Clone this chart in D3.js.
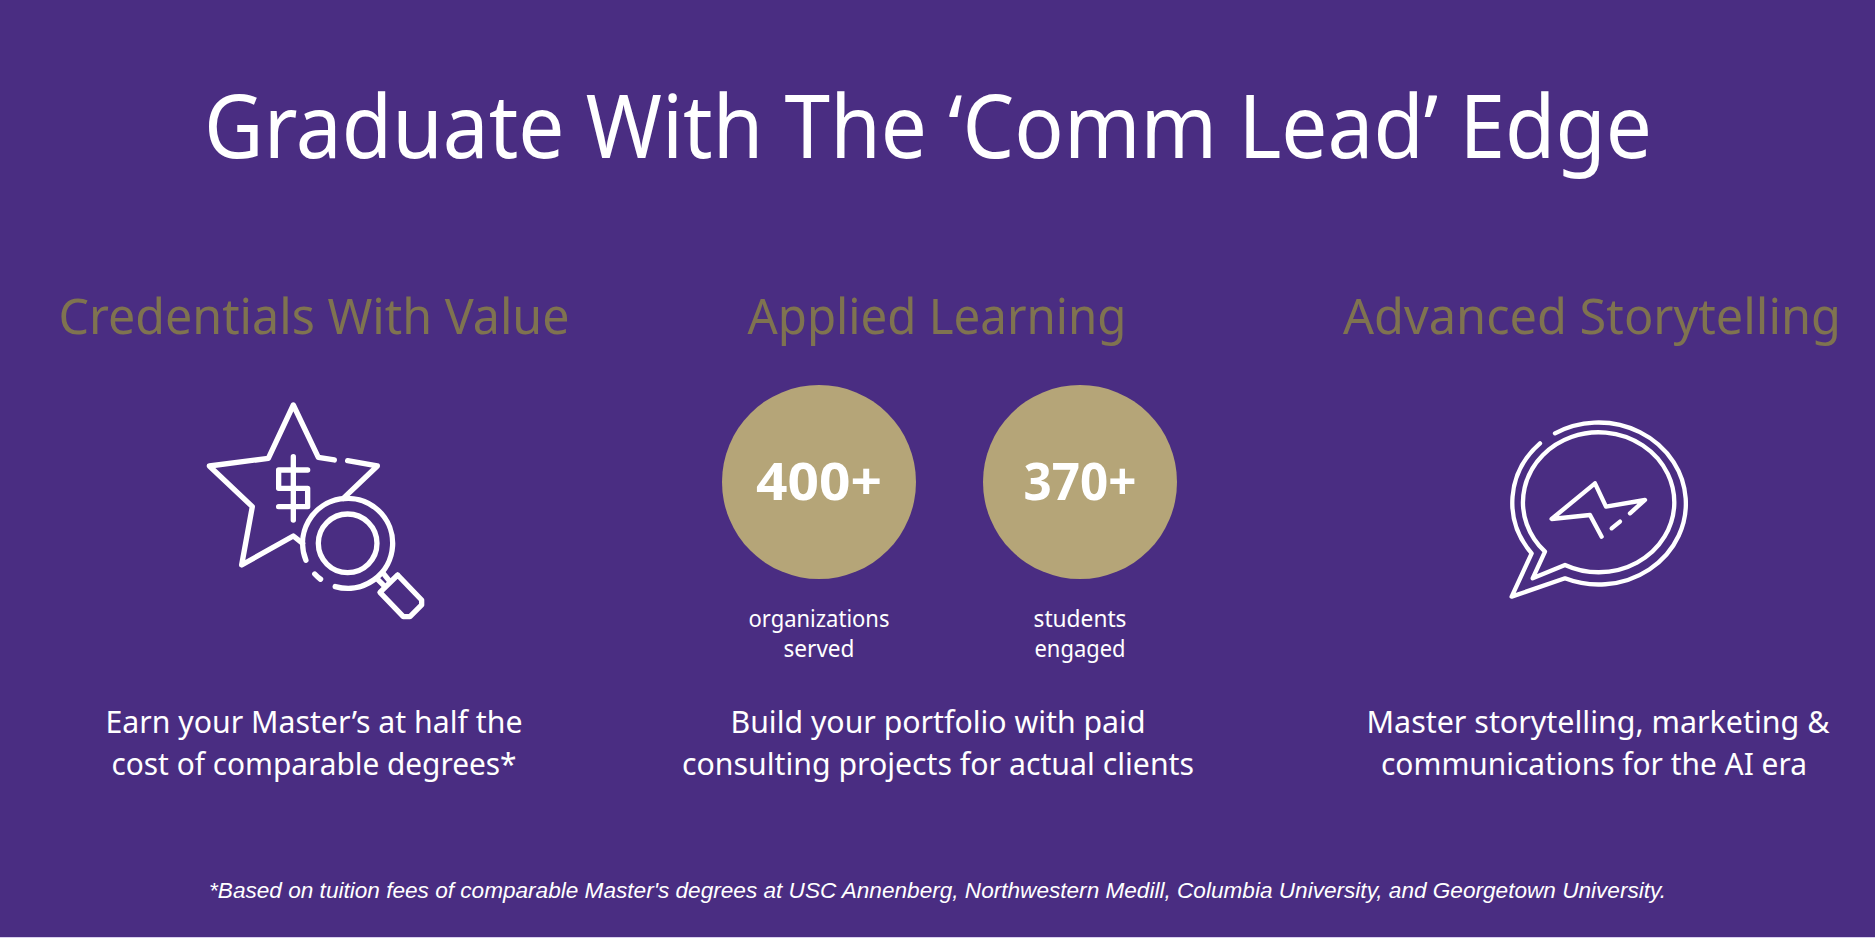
<!DOCTYPE html>
<html>
<head>
<meta charset="utf-8">
<script src="https://cdn.jsdelivr.net/npm/d3@7/dist/d3.min.js"></script>
<style>
  html, body { margin: 0; padding: 0; background: #4a2d82; }
  svg { display: block; }
  text { font-family: "Noto Sans", sans-serif; text-anchor: middle; }
</style>
</head>
<body>
<svg id="chart" width="1875" height="938"></svg>
<script>
const titleText = "Graduate With The \u2018Comm Lead\u2019 Edge";
const columns = ["Credentials With Value", "Applied Learning", "Advanced Storytelling"];
const bodyLines = [
  ["Earn your Master\u2019s at half the", "cost of comparable degrees*"],
  ["Build your portfolio with paid", "consulting projects for actual clients"],
  ["Master storytelling, marketing &", "communications for the AI era"]
];
const statValues = ["400+", "370+"];
const statLabels = [["organizations", "served"], ["students", "engaged"]];
const footnote = "*Based on tuition fees of comparable Master's degrees at USC Annenberg, Northwestern Medill, Columbia University, and Georgetown University.";

const WHITE = "#ffffff", GOLD = "#b5a578", HEADING = "#7f7350", BG = "#4a2d82";

// measured widths, the original face is a bit narrower than Noto Sans
const headWidths = [511, 379, 498];
const bodyWidths = [[417, 405], [415, 512], [463, 426]];
const bodyCenters = [[314, 314], [938, 938], [1598, 1594]];
const statWidths = [126, 113];
const labelWidths = [[141, 71], [93, 91]];

const svg = d3.select("#chart");
svg.append("rect").attr("width", 1875).attr("height", 937).attr("fill", BG);
svg.append("rect").attr("y", 937).attr("width", 1875).attr("height", 1).attr("fill", "#d9d0ee");

const colX = d3.scaleOrdinal().domain(columns).range([314, 937, 1592]);
const statX = d3.scaleOrdinal().domain(statValues).range([819, 1080]);

const fit = (sel, w) => sel.attr("textLength", w).attr("lengthAdjust", "spacingAndGlyphs");

// title
svg.append("text").attr("x", 928).attr("y", 158)
  .attr("font-size", 87).attr("fill", WHITE)
  .call(fit, 1448)
  .text(titleText);

// column headings
svg.selectAll("text.head").data(columns).join("text")
  .attr("class", "head")
  .attr("x", d => colX(d)).attr("y", 334)
  .attr("font-size", 50).attr("fill", HEADING)
  .call(fit, (d, i) => headWidths[i])
  .text(d => d);

// body copy, two lines per column
columns.forEach((c, i) => {
  svg.selectAll("text.b" + i).data(bodyLines[i]).join("text")
    .attr("class", "b" + i)
    .attr("x", (d, j) => bodyCenters[i][j]).attr("y", (d, j) => 733 + j * 42)
    .attr("font-size", 31).attr("fill", WHITE)
    .call(fit, (d, j) => bodyWidths[i][j])
    .text(d => d);
});

// circles with stats
svg.selectAll("circle.stat").data(statValues).join("circle")
  .attr("class", "stat")
  .attr("cx", d => statX(d)).attr("cy", 482).attr("r", 97)
  .attr("fill", GOLD);
svg.selectAll("text.val").data(statValues).join("text")
  .attr("class", "val")
  .attr("x", d => statX(d)).attr("y", 500)
  .attr("font-size", 52).attr("font-weight", 700).attr("fill", WHITE)
  .call(fit, (d, i) => statWidths[i])
  .text(d => d);
statValues.forEach((v, i) => {
  svg.selectAll("text.l" + i).data(statLabels[i]).join("text")
    .attr("class", "l" + i)
    .attr("x", statX(v)).attr("y", (d, j) => 627 + j * 30)
    .attr("font-size", 23).attr("fill", WHITE)
    .call(fit, (d, j) => labelWidths[i][j])
    .text(d => d);
});

// footnote
svg.append("text").attr("x", 937.5).attr("y", 898)
  .style("font-family", "'Liberation Sans', sans-serif")
  .attr("font-size", 22.6).attr("font-style", "italic").attr("fill", WHITE)
  .text(footnote);

// icons, traced in 3x crop units
const line = d3.line();
const rad = d => d * Math.PI / 180;

const starIcon = svg.append("g")
  .attr("transform", "translate(180,380) scale(0.3333)")
  .attr("fill", "none").attr("stroke", WHITE).attr("stroke-width", 16)
  .attr("stroke-linecap", "round").attr("stroke-linejoin", "round");
const starParts = [
  [[463,240],[415,232],[340,75],[265,235],[88,258],[217,380],[185,555],[340,468],[368,490]],
  [[503,242],[592,258],[490,355]],
  [[340,230],[340,420]],
  [[383,270],[296,270],[296,325],[383,325],[383,380],[296,380]],
  [[590,595],[615,620]],
  [[610,580],[630,605]],
  [[653,585],[725,660],[725,675],[690,710],[670,710],[600,637],[653,585]]
];
starParts.forEach(p => starIcon.append("path").attr("d", line(p)));
const lens = d3.path();
lens.arc(503, 490, 88, 0, 2 * Math.PI);
starIcon.append("path").attr("d", lens.toString());
const ring = d3.path();
ring.arc(503, 490, 135, rad(106), rad(158), true);
starIcon.append("path").attr("d", ring.toString());
const ringDash = d3.path();
ringDash.arc(503, 490, 135, rad(127), rad(137));
starIcon.append("path").attr("d", ringDash.toString());

const bubbleIcon = svg.append("g")
  .attr("transform", "translate(1480,400) scale(0.3333)")
  .attr("fill", "none").attr("stroke", WHITE).attr("stroke-width", 13)
  .attr("stroke-linecap", "round").attr("stroke-linejoin", "round");
[
  "M195,455 A227,210 0 1 1 255,495 L158,535 Z",
  "M180,130 A262,243 0 0 0 155,460 L95,590 L255,535 A262,243 0 1 0 225,100",
  "M450,340 L495,300 L378,320 L345,250 L215,357 L330,345 L365,410",
  "M395,385 L420,365"
].forEach(d => bubbleIcon.append("path").attr("d", d));
</script>
</body>
</html>
